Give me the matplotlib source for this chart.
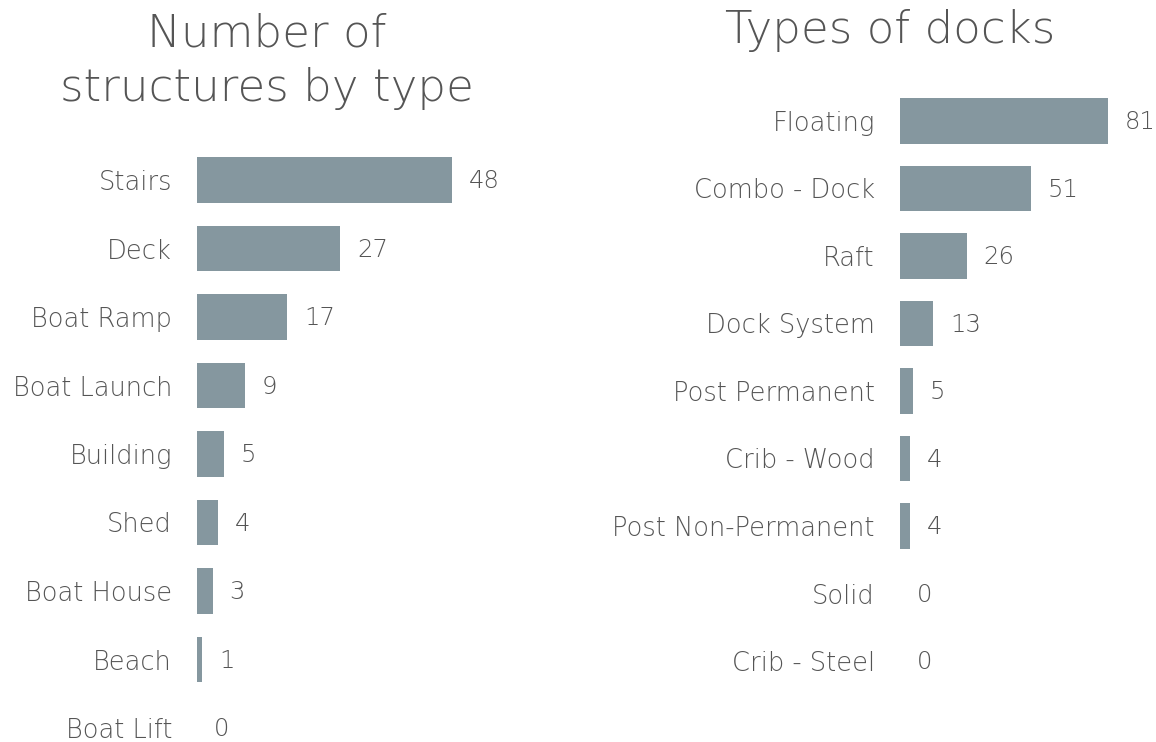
import matplotlib
matplotlib.use("Agg")
import matplotlib.pyplot as plt

structure_types = ["Stairs", "Deck", "Boat Ramp", "Boat Launch", "Building",
                   "Shed", "Boat House", "Beach", "Boat Lift"]
structure_counts = [48, 27, 17, 9, 5, 4, 3, 1, 0]

dock_types = ["Floating", "Combo - Dock", "Raft", "Dock System", "Post Permanent",
              "Crib - Wood", "Post Non-Permanent", "Solid", "Crib - Steel"]
dock_counts = [81, 51, 26, 13, 5, 4, 4, 0, 0]

BAR = "#85979f"
TXT = "#555555"
FONT = ["DejaVu Sans"]
plt.rcParams['font.family'] = FONT
LW = 'light'

W, H = 1156, 742
fig = plt.figure(figsize=(W / 100, H / 100), dpi=100)


def px_axes(left, top, width, height):
    return fig.add_axes([left / W, 1 - (top + height) / H, width / W, height / H])


def draw(ax, cats, vals, xmax):
    y = list(range(len(cats)))
    ax.barh(y, vals, height=0.67, color=BAR)
    ax.set_xlim(0, xmax)
    ax.set_ylim(len(cats) - 0.5, -0.5)
    ax.set_yticks(y)
    ax.set_yticklabels(cats, fontsize=18.5, color=TXT, fontweight=LW)
    ax.tick_params(axis='y', length=0, pad=18)
    ax.set_xticks([])
    for s in ax.spines.values():
        s.set_visible(False)
    for yi, v in zip(y, vals):
        ax.annotate(str(v), (v, yi), xytext=(12, -1), textcoords='offset points',
                    va='center', ha='left', fontsize=17.5, color=TXT, fontweight=LW)


# left: 48 -> 255 px, start at 197
sl = 255 / 48
axl = px_axes(197, 180 - 34.25, 60 * sl, 9 * 68.5)
draw(axl, structure_types, structure_counts, 60)

sr = 208 / 81
axr = px_axes(900, 121 - 33.75, 90 * sr, 9 * 67.5)
draw(axr, dock_types, dock_counts, 90)

fig.text(267 / W, 1 - 61 / H, "Number of\nstructures by type", ha='center', va='center',
         fontsize=32.5, color=TXT, fontweight=LW, linespacing=1.33)
fig.text(890 / W, 1 - 31 / H, "Types of docks", ha='center', va='center',
         fontsize=32.5, color=TXT, fontweight=LW)

fig.savefig("out.png", dpi=100, facecolor='white')
